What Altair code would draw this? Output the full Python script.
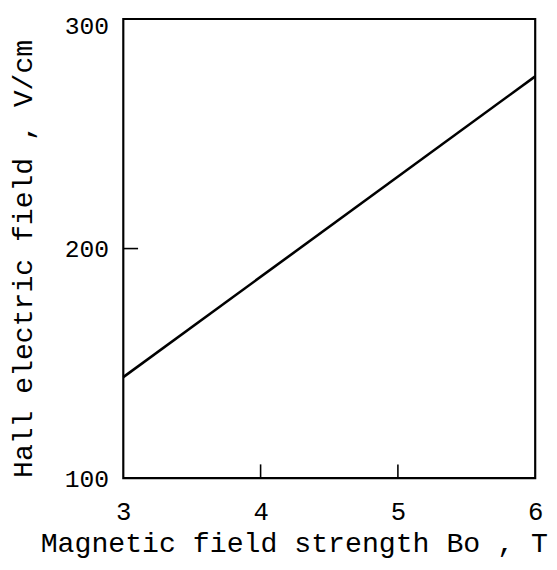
import altair as alt
import pandas as pd

# Data
field_T = [3, 6]
hall_V_per_cm = [144, 275]
x_tick_labels = [3, 4, 5, 6]
y_tick_labels = [100, 200, 300]
x_inner_ticks = [4, 5]
y_inner_ticks = [200]

W, H = 418, 466
FONT = "Liberation Mono"

line_df = pd.DataFrame({"B": field_T, "E": hall_V_per_cm})
xt_df = pd.DataFrame({"B": x_inner_ticks})
yt_df = pd.DataFrame({"E": y_inner_ticks})

xs = alt.Scale(domain=[3, 6], nice=False, zero=False)
ys = alt.Scale(domain=[100, 300], nice=False, zero=False)

x_axis = alt.Axis(
    values=x_tick_labels, ticks=False, tickSize=0, domain=False, grid=False,
    labelFont=FONT, labelFontSize=26, labelColor="black", labelPadding=42,
    labelBaseline="alphabetic", labelFlush=False, labelOverlap=False,
    title="Magnetic field strength Bo , T", titleFont=FONT, titleFontSize=28.6,
    titleFontWeight="normal", titleColor="black", titleX=173, titleY=74,
    titleAlign="center", titleBaseline="alphabetic",
)
y_axis = alt.Axis(
    values=y_tick_labels, ticks=False, tickSize=0, domain=False, grid=False,
    labelFont=FONT, labelFontSize=25, labelColor="black", labelPadding=15,
    labelBaseline="middle",
    labelOffset={"condition": {"test": "datum.value == 300", "value": 7},
                 "value": 0},
    labelFlush=False, labelOverlap=False,
    title="Hall electric field , V/cm", titleFont=FONT, titleFontSize=28.5,
    titleFontWeight="normal", titleColor="black", titleX=-93, titleY=243,
    titleAlign="center", titleBaseline="alphabetic", titleAngle=270,
)

line = alt.Chart(line_df).mark_line(color="black", strokeWidth=2.6).encode(
    x=alt.X("B:Q", scale=xs, axis=x_axis),
    y=alt.Y("E:Q", scale=ys, axis=y_axis),
)

x_ticks = alt.Chart(xt_df).mark_rule(color="black", strokeWidth=1.6).encode(
    x=alt.X("B:Q", scale=xs, axis=x_axis),
    y=alt.value(H),
    y2=alt.value(H - 14),
)

y_ticks = alt.Chart(yt_df).mark_rule(color="black", strokeWidth=1.6).encode(
    y=alt.Y("E:Q", scale=ys, axis=y_axis),
    x=alt.value(0),
    x2=alt.value(15),
)

chart = (
    alt.layer(line, x_ticks, y_ticks)
    .properties(
        width=W, height=H,
        autosize=alt.AutoSizeParams(type="none"),
        padding={"left": 117, "top": 7, "right": 14, "bottom": 85},
        background="white",
    )
    .configure_view(stroke="black", strokeWidth=2.2)
)

chart.save("out.html", embed_options={"renderer": "svg", "actions": False})
